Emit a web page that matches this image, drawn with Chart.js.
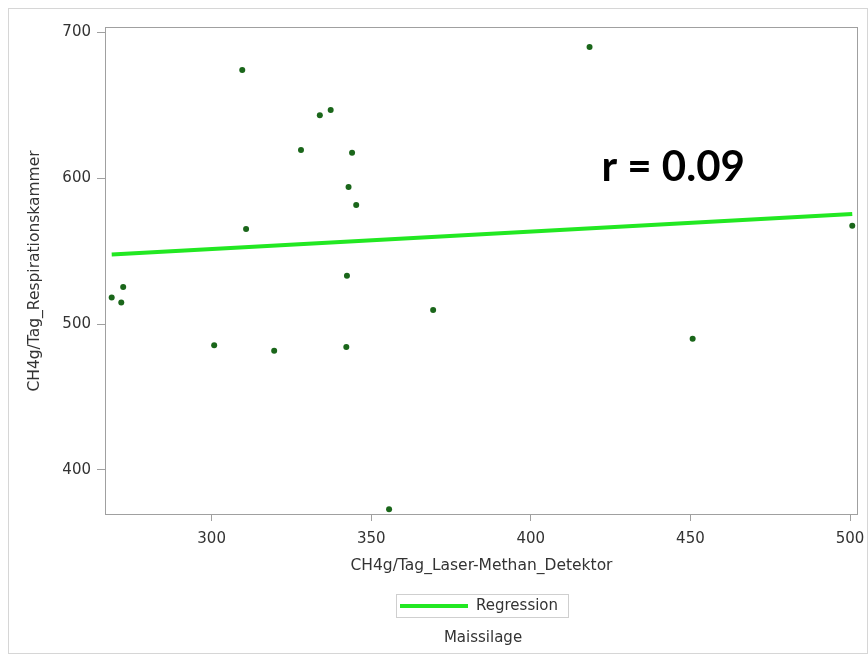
<!DOCTYPE html>
<html>
<head>
<meta charset="utf-8">
<script src="https://cdn.jsdelivr.net/npm/chart.js@4"></script>
<style>
  html, body { margin: 0; padding: 0; background: #fff; overflow: hidden; }
  canvas { display: block; }
</style>
</head>
<body>
<canvas id="scatterChart" width="868" height="656"></canvas>
<script>
const laserX = [268.7, 272.3, 271.7, 300.8, 319.6, 309.6, 310.8, 328.0, 333.9, 337.3,
                344.0, 342.9, 345.3, 342.4, 342.2, 355.6, 369.4, 418.4, 450.7, 500.7];
const kammerY = [518.2, 525.3, 514.8, 485.5, 481.6, 674.1, 565.1, 619.3, 643.1, 646.7,
                 617.4, 593.9, 581.6, 533.1, 484.2, 373.0, 509.7, 689.9, 489.9, 567.4];

// Regressionsgerade (Endpunkte)
const regX = [268.7, 500.7];
const regY = [547.7, 575.4];

const xTicks = [300, 350, 400, 450, 500];
const yTicks = [400, 500, 600, 700];
const rText = "r = 0.09";

const textFont = { family: "DejaVu Sans", size: 15 };
const textColor = "#333333";
const axisGray = "#a0a0a0";

// Rahmen, Plotbox, Legende und r-Wert
const extras = {
  id: "extras",
  beforeDraw(chart) {
    const ctx = chart.ctx;
    ctx.save();
    ctx.fillStyle = "#fff";
    ctx.fillRect(0, 0, chart.width, chart.height);
    ctx.strokeStyle = "#d6d6d6";
    ctx.lineWidth = 1;
    ctx.strokeRect(8.5, 8.5, 859, 645);
    ctx.restore();
  },
  afterDraw(chart) {
    const ctx = chart.ctx;
    const a = chart.chartArea;
    ctx.save();
    ctx.strokeStyle = axisGray;
    ctx.lineWidth = 1;
    ctx.strokeRect(Math.round(a.left) + 0.5, Math.round(a.top) + 0.5,
      Math.round(a.right - a.left) - 1, Math.round(a.bottom - a.top) - 1);

    // r = 0.09
    const sx = chart.scales.x, sy = chart.scales.y;
    ctx.fillStyle = "#000";
    ctx.font = "bold 42px Lato";
    ctx.textAlign = "center";
    ctx.textBaseline = "middle";
    ctx.fillText(rText, sx.getPixelForValue(444.6), sy.getPixelForValue(607.6));

    // Legende
    const reg = chart.data.datasets[1];
    ctx.strokeStyle = "#cfcfcf";
    ctx.strokeRect(396.5, 594.5, 172, 23);
    ctx.strokeStyle = reg.borderColor;
    ctx.lineWidth = reg.borderWidth;
    ctx.beginPath();
    ctx.moveTo(400, 606);
    ctx.lineTo(468, 606);
    ctx.stroke();
    ctx.fillStyle = textColor;
    ctx.font = "15px 'DejaVu Sans'";
    ctx.textAlign = "left";
    ctx.fillText(reg.label, 476, 606);
    ctx.textAlign = "center";
    ctx.fillText("Maissilage", 483, 638);
    ctx.restore();
  }
};

const ctx = document.getElementById("scatterChart").getContext("2d");
new Chart(ctx, {
  type: "scatter",
  data: {
    datasets: [
      {
        label: "Messwerte",
        data: laserX.map((x, i) => ({ x: x, y: kammerY[i] })),
        backgroundColor: "#1a661a",
        borderColor: "#1a661a",
        pointRadius: 3,
        borderWidth: 0,
      },
      {
        label: "Regression",
        type: "line",
        data: regX.map((x, i) => ({ x: x, y: regY[i] })),
        borderColor: "#22e822",
        borderWidth: 4,
        pointRadius: 0,
        fill: false,
      },
    ],
  },
  options: {
    responsive: false,
    animation: false,
    devicePixelRatio: 1,
    layout: { padding: { left: 0, top: 27, right: 10, bottom: 81 } },
    plugins: {
      legend: { display: false },
      tooltip: { enabled: false },
    },
    scales: {
      x: {
        type: "linear",
        min: 266.6,
        max: 502.5,
        afterBuildTicks: (s) => { s.ticks = xTicks.map((v) => ({ value: v })); },
        afterFit: (s) => { s.height = 60; s.paddingLeft = 0; s.paddingRight = 0; },
        grid: { display: true, drawOnChartArea: false, color: axisGray, tickLength: 6 },
        border: { display: false },
        ticks: { font: textFont, color: textColor, padding: 9, maxRotation: 0 },
        title: { display: true, text: "CH4g/Tag_Laser-Methan_Detektor", font: { family: "DejaVu Sans", size: 15.5 }, color: textColor, padding: { top: 0, bottom: 0 } },
      },
      y: {
        type: "linear",
        min: 369.1,
        max: 703.6,
        afterBuildTicks: (s) => { s.ticks = yTicks.map((v) => ({ value: v })); },
        afterFit: (s) => { s.width = 105; s.paddingTop = 0; s.paddingBottom = 0; },
        grid: { display: true, drawOnChartArea: false, color: axisGray, tickLength: 8 },
        border: { display: false },
        ticks: { font: textFont, color: textColor, padding: 6 },
        title: { display: true, text: "CH4g/Tag_Respirationskammer", font: { family: "DejaVu Sans", size: 15.5 }, color: textColor, padding: { top: 26, bottom: 0 } },
      },
    },
  },
  plugins: [extras],
});
</script>
</body>
</html>
